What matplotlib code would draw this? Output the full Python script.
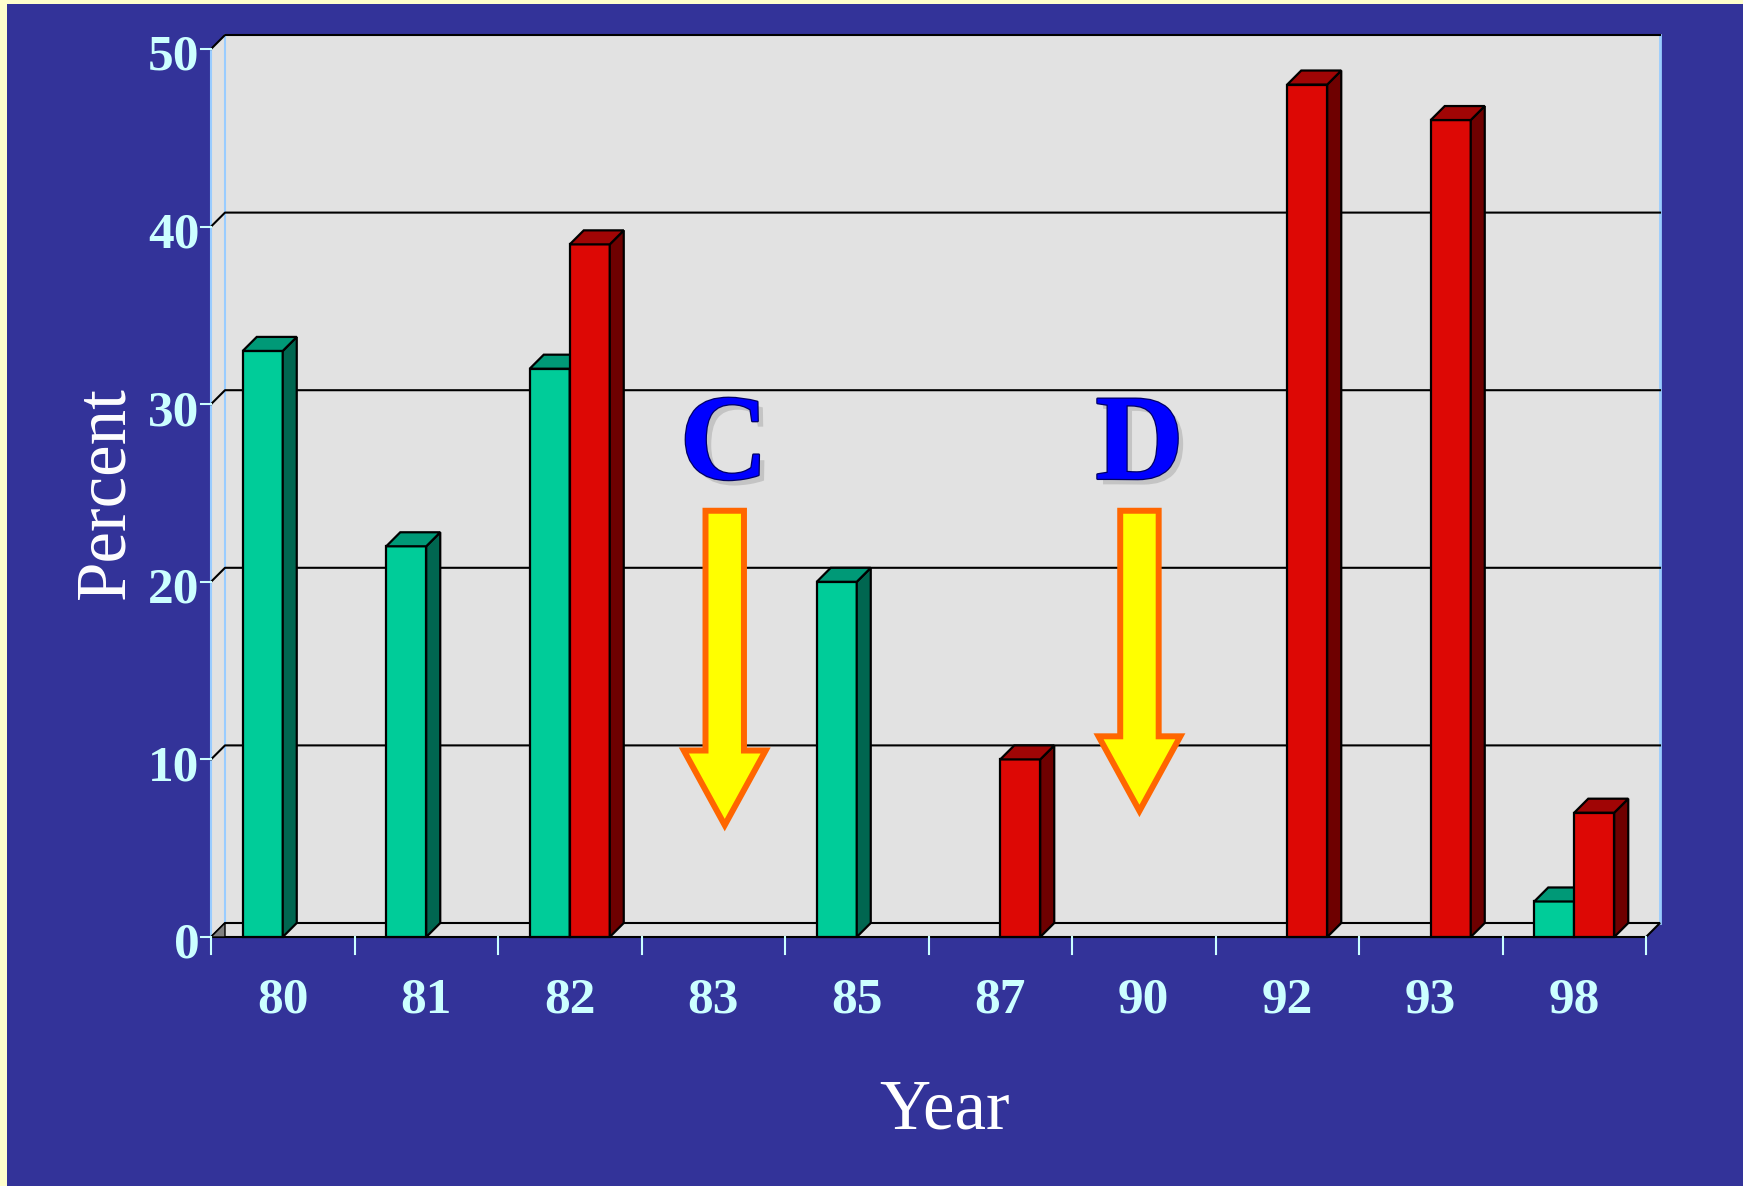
import numpy as np
import matplotlib
matplotlib.use("Agg")
import matplotlib.pyplot as plt
from matplotlib.patches import Rectangle, Polygon
import matplotlib.patheffects as pe

plt.rcParams['font.family'] = ['Liberation Serif', 'DejaVu Serif']

# data
years = ['80', '81', '82', '83', '85', '87', '90', '92', '93', '98']
green_vals = [33, 22, 32, np.nan, 20, np.nan, np.nan, np.nan, np.nan, 2]
red_vals = [np.nan, np.nan, 39, np.nan, np.nan, 10, np.nan, 48, 46, 7]
yticks = [0, 10, 20, 30, 40, 50]

# colours
BG_BLUE = '#333399'
BORDER = '#FFFFCC'
WALL = '#E2E2E2'
TICK_COL = '#CCFFFF'
GREEN = ('#00CC99', '#006650', '#009977')   # front, side, top
RED = ('#DD0805', '#6E0000', '#A00505')

W_PX, H_PX = 1743, 1186
fig = plt.figure(figsize=(W_PX / 100, H_PX / 100), dpi=100)
fig.patch.set_facecolor(BORDER)
fig.add_artist(Rectangle((7 / W_PX, 0), 1, 1 - 4 / H_PX, transform=fig.transFigure,
                         facecolor=BG_BLUE, edgecolor='none', zorder=0))

# pixel geometry of the front axis
px_x, px_y = 143.5, 17.76
x0_px, y0_px = 211, 937
xlim = (-0.1, 10.2)
ylim = (-0.5, 51.5)
left = (x0_px + xlim[0] * px_x) / W_PX
right = (x0_px + xlim[1] * px_x) / W_PX
bottom = (H_PX - (y0_px - ylim[0] * px_y)) / H_PX
top = (H_PX - (y0_px - ylim[1] * px_y)) / H_PX
ax = fig.add_axes([left, bottom, right - left, top - bottom])
ax.set_xlim(*xlim)
ax.set_ylim(*ylim)
ax.axis('off')

n = len(years)
ymax = 50
dx, dy = 14 / px_x, 14 / px_y
bw = 40 / px_x

# back wall and left side wall
ax.add_patch(Polygon([(dx, dy), (n + dx, dy), (n + dx, ymax + dy), (dx, ymax + dy)],
                     facecolor=WALL, edgecolor='none', zorder=1))
ax.add_patch(Polygon([(0, 0), (dx, dy), (dx, ymax + dy), (0, ymax)],
                     facecolor=WALL, edgecolor='none', zorder=1))
ax.plot([0, 0], [0, ymax], color='#99CCFF', lw=1.5, zorder=2)
ax.plot([dx, dx], [dy, ymax + dy], color='#99CCFF', lw=1.5, zorder=2)
ax.plot([n + dx, n + dx], [dy, ymax + dy], color='#99CCFF', lw=2, zorder=2)

# gridlines on the wall
for v in yticks[1:]:
    ax.plot([0, dx, n + dx], [v, v + dy, v + dy], color='black', lw=1.5, zorder=2)

# floor
ax.add_patch(Polygon([(0, 0), (n, 0), (n + dx, dy), (dx, dy)],
                     facecolor=WALL, edgecolor='black', lw=1.5, zorder=2))
ax.add_patch(Polygon([(0, 0), (dx, dy), (dx, 0)], facecolor='#808080',
                     edgecolor='black', lw=1, zorder=2))


def bar3d(x, h, cols):
    kw = dict(edgecolor='black', lw=1.6, joinstyle='miter', zorder=4)
    ax.add_patch(Rectangle((x, 0), bw, h, facecolor=cols[0], **kw))
    ax.add_patch(Polygon([(x + bw, 0), (x + bw + dx, dy), (x + bw + dx, h + dy), (x + bw, h)],
                         facecolor=cols[1], **kw))
    ax.add_patch(Polygon([(x, h), (x + bw, h), (x + bw + dx, h + dy), (x + dx, h + dy)],
                         facecolor=cols[2], **kw))


for i in range(n):
    c = i + 0.5
    if not np.isnan(green_vals[i]):
        bar3d(c - bw, green_vals[i], GREEN)
    if not np.isnan(red_vals[i]):
        bar3d(c, red_vals[i], RED)

# y axis ticks and labels
tk = 10 / px_x
for v in yticks:
    ax.plot([-tk, 0], [v, v], color=TICK_COL, lw=1.5, zorder=3, clip_on=False)
    ax.text(-tk - 0.01, v - 0.5, str(v), ha='right', va='center', color=TICK_COL,
            fontsize=37, fontweight='bold', clip_on=False)

# x axis ticks and labels
for i in range(n + 1):
    ax.plot([i, i], [0, -17 / px_y], color=TICK_COL, lw=1.5, zorder=3, clip_on=False)
for i, lab in enumerate(years):
    ax.text(i + 0.5, -3.6, lab, ha='center', va='center', color=TICK_COL,
            fontsize=37, fontweight='bold', clip_on=False)

ax.text(-0.73, 25.0, 'Percent', rotation=90, ha='center', va='center', color='white',
        fontsize=51, clip_on=False)
ax.text(5.115, -10.8, 'Year', ha='center', va='baseline', color='white',
        fontsize=51, clip_on=False)


# annotation arrows
def down_arrow(xc, top_y, base_y, tip_y):
    hw, hhw = 0.134, 0.285
    pts = [(xc - hw, top_y), (xc + hw, top_y), (xc + hw, base_y), (xc + hhw, base_y),
           (xc, tip_y), (xc - hhw, base_y), (xc - hw, base_y)]
    ax.add_patch(Polygon(pts, closed=True, facecolor='#FFFF00', edgecolor='#FF6600',
                         lw=4.3, joinstyle='miter', zorder=5))


down_arrow(3.58, 24.0, 10.5, 6.3)
down_arrow(6.47, 24.0, 11.3, 7.1)

letter_fx = [pe.SimplePatchShadow(offset=(4, -4), shadow_rgbFace='#C4C4C4', alpha=1.0),
             pe.Stroke(linewidth=1.8, foreground='#000066'), pe.Normal()]
for xc, lab in [(3.575, 'C'), (6.47, 'D')]:
    ax.text(xc, 25.8, lab, ha='center', va='baseline', color='#0000FF', fontsize=88,
            fontweight='bold', zorder=6, path_effects=letter_fx)

fig.savefig('out.png', dpi=100, facecolor=fig.get_facecolor())
